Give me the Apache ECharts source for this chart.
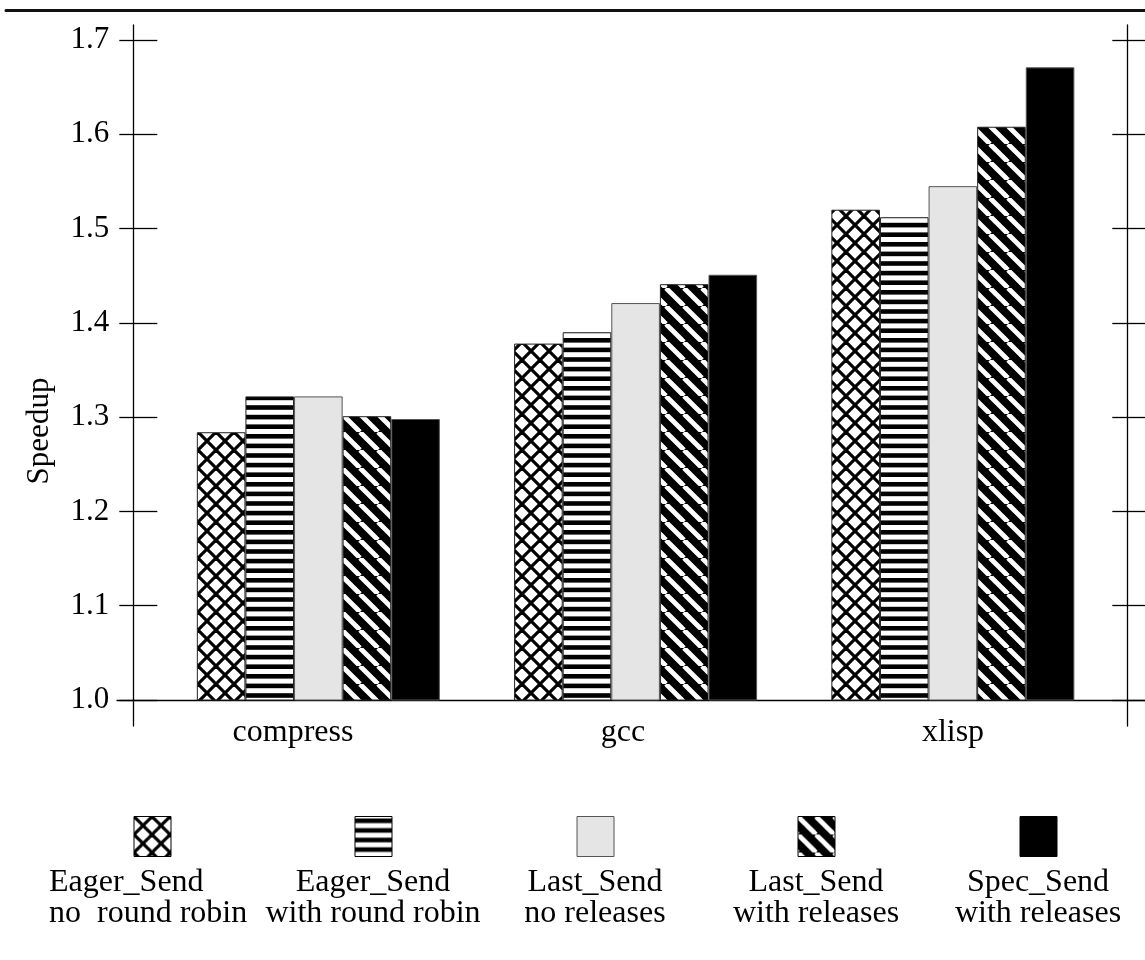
<!DOCTYPE html>
<html>
<head>
<meta charset="utf-8">
<script src="https://cdn.jsdelivr.net/npm/echarts@6/dist/echarts.min.js"></script>
<style>
html,body{margin:0;padding:0;background:#fff;}
#chart{width:1145px;height:960px;}
</style>
</head>
<body>
<div id="chart"></div>
<script>
// ---- data ----
const categories = ['compress', 'gcc', 'xlisp'];
const seriesNames = ['Eager_Send\nno  round robin', 'Eager_Send\nwith round robin', 'Last_Send\nno releases', 'Last_Send\nwith releases', 'Spec_Send\nwith releases'];
const eagerNoRoundRobin   = [1.284, 1.378, 1.520];
const eagerWithRoundRobin = [1.322, 1.390, 1.512];
const lastNoReleases      = [1.322, 1.421, 1.545];
const lastWithReleases    = [1.301, 1.441, 1.608];
const specWithReleases    = [1.298, 1.451, 1.671];
const yMin = 1.0, yMax = 1.7, yStep = 0.1;
const yAxisTitle = 'Speedup';

const seriesValues = [eagerNoRoundRobin, eagerWithRoundRobin, lastNoReleases, lastWithReleases, specWithReleases];

// ---- fill patterns ----
function cv(w, h) { const c = document.createElement('canvas'); c.width = w; c.height = h; return c; }
function crossPattern() {
  const s = 18, c = cv(s, s), g = c.getContext('2d');
  g.fillStyle = '#fff'; g.fillRect(0, 0, s, s);
  g.strokeStyle = '#000'; g.lineWidth = 3.2;
  for (const o of [-s, 0, s]) {
    g.beginPath(); g.moveTo(o, 0); g.lineTo(o + s, s); g.stroke();
    g.beginPath(); g.moveTo(o, s); g.lineTo(o + s, 0); g.stroke();
  }
  return c;
}
function hStripePattern() {
  const w = 10, h = 48, c = cv(w, h), g = c.getContext('2d');
  g.fillStyle = '#fff'; g.fillRect(0, 0, w, h);
  g.fillStyle = '#000';
  for (let k = 0; k < 5; k++) g.fillRect(0, k * 9.6 + 2, w, 4.6);
  return c;
}
function diagPattern() {
  const s = 18, c = cv(s, s), g = c.getContext('2d');
  g.fillStyle = '#000'; g.fillRect(0, 0, s, s);
  g.strokeStyle = '#fff'; g.lineWidth = 4.8;
  for (const o of [-s, 0, s]) {
    g.beginPath(); g.moveTo(o, 0); g.lineTo(o + s, s); g.stroke();
  }
  return c;
}
const fills = [
  { image: crossPattern(), repeat: 'repeat' },
  { image: hStripePattern(), repeat: 'repeat' },
  '#e5e5e5',
  { image: diagPattern(), repeat: 'repeat' },
  '#000000'
];
const borders = ['#222', '#222', '#555', '#222', '#555'];

const FONT = 'Liberation Serif';
const FS = 31;
const FS_CAT = 32;
const lineStyle = { color: '#000', width: 1.3 };

const chart = echarts.init(document.getElementById('chart'), null, { renderer: 'canvas' });

const valueHidden = (gi) => ({ gridIndex: gi, type: 'value', min: 0, max: 1, show: false });

const option = {
  backgroundColor: '#fff',
  animation: false,
  grid: [
    { left: 133.3, right: 17.7, top: 40, bottom: 260 },   // 0: ticks / labels
    { left: 159.7, right: 33.5, top: 40, bottom: 260 },   // 1: bars
    { left: 128, right: 27, top: 40, bottom: 260 },       // 2: category labels
    { left: 133.3, right: 17.7, top: 25, bottom: 234 },   // 3: vertical frame lines
    { left: 117, right: 0, top: 40, bottom: 260 },        // 4: baseline
    { left: 6, right: 0, top: 10, bottom: 940 }           // 5: top rule
  ],
  xAxis: [
    { gridIndex: 0, type: 'category', data: categories, show: false },
    { gridIndex: 1, type: 'category', data: categories, show: false },
    { gridIndex: 2, type: 'category', data: categories, position: 'bottom',
      axisLine: { show: false }, axisTick: { show: false }, splitLine: { show: false },
      axisLabel: { show: true, margin: 17, fontFamily: FONT, fontSize: FS_CAT, color: '#000' } },
    valueHidden(3),
    { gridIndex: 4, type: 'value', min: 0, max: 1, position: 'bottom',
      axisLine: { show: true, onZero: false, lineStyle: lineStyle },
      axisTick: { show: false }, axisLabel: { show: false }, splitLine: { show: false } },
    { gridIndex: 5, type: 'value', min: 0, max: 1, position: 'top',
      axisLine: { show: true, onZero: false, lineStyle: { color: '#111', width: 3 } },
      axisTick: { show: false }, axisLabel: { show: false }, splitLine: { show: false } }
  ],
  yAxis: [
    { gridIndex: 0, type: 'value', min: yMin, max: yMax, interval: yStep, position: 'left',
      axisLine: { show: false, onZero: false }, splitLine: { show: false },
      axisTick: { show: true, inside: false, length: 14, lineStyle: lineStyle },
      axisLabel: { show: true, margin: 24, fontFamily: FONT, fontSize: FS, color: '#000',
        formatter: v => v.toFixed(1) } },
    { gridIndex: 0, type: 'value', min: yMin, max: yMax, interval: yStep, position: 'left',
      axisLine: { show: false, onZero: false }, splitLine: { show: false },
      axisTick: { show: true, inside: true, length: 24, lineStyle: lineStyle },
      axisLabel: { show: false } },
    { gridIndex: 0, type: 'value', min: yMin, max: yMax, interval: yStep, position: 'right',
      axisLine: { show: false, onZero: false }, splitLine: { show: false },
      axisTick: { show: true, inside: false, length: 18, lineStyle: lineStyle },
      axisLabel: { show: false } },
    { gridIndex: 0, type: 'value', min: yMin, max: yMax, interval: yStep, position: 'right',
      axisLine: { show: false, onZero: false }, splitLine: { show: false },
      axisTick: { show: true, inside: true, length: 15, lineStyle: lineStyle },
      axisLabel: { show: false } },
    { gridIndex: 1, type: 'value', min: yMin, max: yMax, show: false },
    valueHidden(2),
    { gridIndex: 3, type: 'value', min: 0, max: 1, position: 'left',
      axisLine: { show: true, onZero: false, lineStyle: lineStyle },
      axisTick: { show: false }, axisLabel: { show: false }, splitLine: { show: false } },
    { gridIndex: 3, type: 'value', min: 0, max: 1, position: 'right',
      axisLine: { show: true, onZero: false, lineStyle: lineStyle },
      axisTick: { show: false }, axisLabel: { show: false }, splitLine: { show: false } },
    valueHidden(4),
    valueHidden(5)
  ],
  series: seriesValues.map((vals, i) => ({
    name: seriesNames[i],
    type: 'bar',
    xAxisIndex: 1,
    yAxisIndex: 4,
    data: vals,
    barWidth: 48.6,
    barGap: '0%',
    itemStyle: { color: fills[i], borderColor: borders[i], borderWidth: 1 },
    emphasis: { disabled: true }
  }))
};

// legend drawn as graphic items (icon above two-line caption)
const legendIconCx = [152, 373, 595, 816, 1038];
const graphics = [];
seriesNames.forEach((name, i) => {
  graphics.push({
    type: 'rect', left: legendIconCx[i] - 18.5, top: 816,
    shape: { width: 37, height: 40 },
    style: { fill: fills[i], stroke: i === 2 ? '#555' : '#000', lineWidth: 1 }
  });
  const first = i === 0;
  graphics.push({
    type: 'text',
    x: first ? 49 : legendIconCx[i], y: 866.5,
    style: { text: name, fontFamily: FONT, fontSize: FS_CAT, lineHeight: 31.3,
      fill: '#000', align: first ? 'left' : 'center', verticalAlign: 'top' }
  });
});
graphics.push({
  type: 'text', x: 40, y: 431, rotation: Math.PI / 2,
  style: { text: yAxisTitle, fontFamily: FONT, fontSize: FS, fill: '#000',
    align: 'center', verticalAlign: 'middle' }
});
option.graphic = graphics;

chart.setOption(option);
</script>
</body>
</html>
